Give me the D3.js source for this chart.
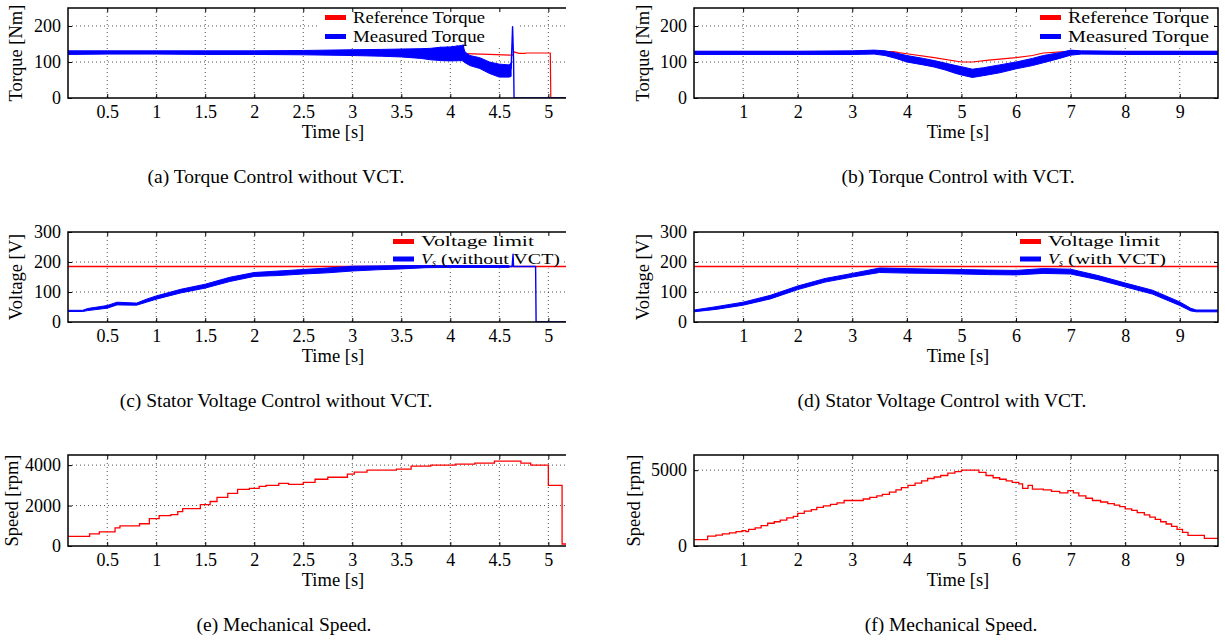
<!DOCTYPE html>
<html><head><meta charset="utf-8">
<script src="https://cdn.jsdelivr.net/npm/d3@7"></script>
<style>
body{margin:0;background:#fff}
text{font-family:"Liberation Serif","Times New Roman",serif;fill:#000}
</style>
</head><body>
<svg id="chart" width="1225" height="641"></svg>
<script>
// ---------- tick values ----------
const timeTicksLeft = [0.5,1,1.5,2,2.5,3,3.5,4,4.5,5];
const timeTicksRight = [1,2,3,4,5,6,7,8,9];
const torqueTicks = [0,100,200];
const voltageTicks = [0,100,200,300];
const speedTicksLeft = [0,2000,4000];
const speedTicksRight = [0,5000];

// ---------- (a) torque without VCT ----------
const refTorqueA = [[0.1,128],[4.1,128],[4.15,123],[4.4,121],[4.62,119],[4.64,119],[4.65,128],[4.7,124],[4.76,124],[4.78,125],[5.02,125],[5.025,0],[5.2,0]];
const measTorqueA = [ // t, low, high envelope of the noisy trace
 [0.1,121,131],[0.5,122,131],[1.0,122,131],[1.5,121,131],[2.0,121,131],[2.5,120,132],
 [3.0,118,134],[3.3,116,135],[3.5,114,136],[3.7,110,137],[3.8,106,138],[3.9,104,141],
 [4.0,103,142],[4.12,104,146],[4.15,98,128],[4.2,90,118],[4.3,82,112],[4.4,68,100],
 [4.5,58,94],[4.6,58,92],[4.62,60,98]];
const measTorqueAOsc = [[3.72,120],[3.76,134],[3.8,110],[3.85,136],[3.88,108],[3.9,140],[3.93,106],[3.97,141],[4.0,108],[4.02,143],[4.05,105],[4.07,144],[4.1,107],[4.13,147],[4.15,115]];
const measTorqueATail = [[4.62,80],[4.635,198],[4.645,110],[4.65,0],[5.2,0]];

// ---------- (b) torque with VCT ----------
const refTorqueB = [[0.1,129],[3.75,129],[3.85,126],[4.0,123],[4.5,112],[5.0,100],[5.2,100],[5.5,105],[6.0,112],[6.3,118],[6.5,125],[6.9,129],[9.7,129]];
const measTorqueB = [
 [0.1,121,130],[1,121,130],[2,121,130],[3,121,131],[3.4,122,133],[3.6,118,131],
 [3.8,110,125],[4.0,100,118],[4.3,92,110],[4.5,86,104],[4.7,78,97],[4.9,68,90],
 [5.0,64,87],[5.2,57,80],[5.4,62,84],[5.7,70,92],[6.0,81,100],[6.3,90,110],
 [6.5,98,118],[6.8,110,126],[7.0,119,133],[7.2,122,131],[8,121,130],[9,121,130],[9.7,121,130]];

// ---------- (c) stator voltage without VCT ----------
const voltageLimit = 185;
const vsA = [
 [0.1,35,39],[0.25,35,39],[0.3,38,45],[0.5,46,55],[0.6,57,66],[0.8,56,63],[0.9,66,76],
 [1.0,76,87],[1.25,97,109],[1.5,113,126],[1.75,135,149],[2.0,152,165],[2.25,155,170],
 [2.5,160,175],[2.75,164,180],[3.0,170,186],[3.25,174,187],[3.5,177,188],[3.75,181,188],
 [4.0,182,188],[4.6,182,188]];
const vsATail = [[4.6,185],[4.63,185],[4.64,226],[4.645,185],[4.87,185],[4.875,0],[5.2,0]];

// ---------- (d) stator voltage with VCT ----------
const vsB = [
 [0.1,34,40],[0.5,42,51],[1.0,56,66],[1.5,77,89],[2.0,108,120],[2.5,133,145],[3.0,150,162],
 [3.5,165,180],[4.0,163,178],[4.5,162,176],[5.0,160,175],[5.5,158,173],[6.0,157,172],
 [6.5,162,178],[7.0,160,176],[7.5,141,155],[8.0,117,130],[8.5,93,106],[9.0,55,67],
 [9.2,37,46],[9.3,34,40],[9.7,34,40]];

// ---------- (e) speed without VCT (step changes) ----------
const speedA = [[0.1,480],[0.32,600],[0.42,700],[0.58,900],[0.63,1000],[0.83,1100],[0.93,1350],[1.03,1500],
 [1.15,1550],[1.22,1700],[1.27,1850],[1.45,2050],[1.55,2200],[1.62,2400],[1.73,2600],[1.83,2800],
 [1.95,2850],[2.05,2950],[2.12,3000],[2.25,3100],[2.35,3050],[2.5,3150],[2.62,3300],[2.75,3400],
 [2.95,3550],[3.02,3650],[3.15,3750],[3.45,3800],[3.6,3950],[3.8,4000],[4.05,4050],[4.25,4100],
 [4.45,4200],[4.72,4100],[4.82,4000],[5.0,3000],[5.14,100],[5.2,100]];

// ---------- (f) speed with VCT (step changes) ----------
const speedB = [[0.1,420],[0.35,650],[0.5,720],[0.62,800],[0.75,870],[0.87,950],[0.98,1020],[1.05,950],
 [1.1,1100],[1.22,1200],[1.33,1350],[1.45,1500],[1.57,1600],[1.68,1700],[1.8,1850],[1.92,1950],
 [2.0,2150],[2.12,2300],[2.25,2400],[2.35,2550],[2.47,2650],[2.6,2750],[2.72,2850],[2.85,3000],
 [3.2,3100],[3.32,3200],[3.45,3300],[3.55,3400],[3.68,3550],[3.8,3700],[3.9,3850],[4.02,4000],
 [4.15,4150],[4.27,4300],[4.38,4450],[4.5,4550],[4.62,4650],[4.75,4800],[4.88,4900],[5.0,5000],
 [5.32,4850],[5.45,4650],[5.58,4500],[5.7,4400],[5.82,4300],[5.93,4200],[6.05,4100],[6.12,3800],
 [6.22,4000],[6.3,3750],[6.5,3700],[6.65,3600],[6.8,3500],[6.95,3650],[7.05,3500],[7.15,3300],
 [7.28,3150],[7.4,3000],[7.55,2900],[7.68,2800],[7.8,2700],[7.9,2600],[8.0,2450],[8.12,2350],
 [8.22,2200],[8.35,2050],[8.45,1900],[8.55,1750],[8.65,1600],[8.75,1450],[8.85,1300],[8.95,1100],
 [9.05,900],[9.15,700],[9.45,500],[9.7,500]];

// ---------- drawing ----------
const svg = d3.select("#chart");
const RED = "#ff0000", BLUE = "#0000ff";
const TICK_FS = 18, LABEL_FS = 18.5, CAP_FS = 19.5;
let clipId = 0;

function fmt(v){ return String(v); }

function panel(cfg){
  const g = svg.append("g");
  const x = d3.scaleLinear().domain(cfg.xDomain).range([cfg.left, cfg.right]);
  const y = d3.scaleLinear().domain(cfg.yDomain).range([cfg.bottom, cfg.top]);
  const id = "clip" + (clipId++);
  g.append("clipPath").attr("id", id).append("rect")
    .attr("x", cfg.left).attr("y", cfg.top).attr("width", cfg.right - cfg.left).attr("height", cfg.bottom - cfg.top);

  // grid
  const grid = g.append("g").attr("stroke", "#222").attr("stroke-width", 0.8).attr("stroke-dasharray", "1,3");
  cfg.xTicks.forEach(t => grid.append("line").attr("x1", x(t)).attr("x2", x(t)).attr("y1", cfg.top).attr("y2", cfg.bottom));
  cfg.yTicks.filter(v => v > cfg.yDomain[0] && v < cfg.yDomain[1]).forEach(v =>
    grid.append("line").attr("x1", cfg.left).attr("x2", cfg.right).attr("y1", y(v)).attr("y2", y(v)));

  // legend background
  const lg = cfg.legend;
  if (lg) {
    g.append("rect").attr("x", lg.x - 6).attr("y", lg.y - 10)
      .attr("width", lg.w).attr("height", lg.rowH * lg.items.length + 2)
      .attr("fill", "#fff");
  }

  const data = g.append("g").attr("clip-path", `url(#${id})`);
  const line = d3.line().x(d => x(d[0])).y(d => y(d[1]));
  const stepLine = d3.line().x(d => x(d[0])).y(d => y(d[1])).curve(d3.curveStepAfter);
  const area = d3.area().x(d => x(d[0])).y0(d => y(d[1])).y1(d => y(d[2]));
  (cfg.series || []).forEach(s => {
    if (s.type === "band") {
      data.append("path").datum(s.data).attr("d", area).attr("fill", s.color)
        .attr("stroke", s.color).attr("stroke-width", 1);
    } else if (s.type === "step") {
      data.append("path").datum(s.data).attr("d", stepLine).attr("fill", "none")
        .attr("stroke", s.color).attr("stroke-width", s.width || 1.3);
    } else if (s.type === "hline") {
      data.append("line").attr("x1", cfg.left).attr("x2", cfg.right).attr("y1", y(s.value)).attr("y2", y(s.value))
        .attr("stroke", s.color).attr("stroke-width", s.width || 1.5);
    } else {
      data.append("path").datum(s.data).attr("d", line).attr("fill", "none")
        .attr("stroke", s.color).attr("stroke-width", s.width || 1.2).attr("stroke-linejoin", "round");
    }
  });

  // axes
  const xa = g.append("g").attr("transform", `translate(0,${cfg.bottom})`)
    .call(d3.axisBottom(x).tickValues(cfg.xTicks).tickFormat(fmt).tickSizeInner(-4).tickSizeOuter(0).tickPadding(7));
  const xt = g.append("g").attr("transform", `translate(0,${cfg.top})`)
    .call(d3.axisTop(x).tickValues(cfg.xTicks).tickFormat("").tickSizeInner(-4).tickSizeOuter(0));
  const ya = g.append("g").attr("transform", `translate(${cfg.left},0)`)
    .call(d3.axisLeft(y).tickValues(cfg.yTicks).tickFormat(fmt).tickSizeInner(-4).tickSizeOuter(0).tickPadding(7));
  const axes = [xa, xt, ya];
  if (cfg.rightBorder) {
    axes.push(g.append("g").attr("transform", `translate(${cfg.right},0)`)
      .call(d3.axisRight(y).tickValues(cfg.yTicks).tickFormat("").tickSizeInner(-4).tickSizeOuter(0)));
  }
  axes.forEach(a => {
    a.select(".domain").remove();
    a.selectAll("line").attr("stroke", "#000").attr("stroke-width", 1);
    a.selectAll("text").attr("font-family", "'Liberation Serif',serif").attr("font-size", TICK_FS).attr("fill", "#000");
  });

  // border
  const L = cfg.left, R = cfg.right, T = cfg.top, B = cfg.bottom;
  const bp = cfg.rightBorder ? `M${L},${T}H${R}V${B}H${L}Z` : `M${R},${T}H${L}V${B}H${R}`;
  g.append("path").attr("d", bp).attr("fill", "none").attr("stroke", "#000").attr("stroke-width", 1.5);

  // legend entries
  if (lg) {
    lg.items.forEach((it, i) => {
      const yy = lg.y + i * lg.rowH;
      const tx = lg.x + 28;
      g.append("line").attr("x1", lg.x).attr("x2", lg.x + 21).attr("y1", yy).attr("y2", yy)
        .attr("stroke", it.color).attr("stroke-width", 5);
      const base = yy + lg.fs * 0.33;
      if (it.vs) {
        // italic V with subscript s, then the rest of the label
        g.append("text").attr("x", tx).attr("y", base).attr("font-size", lg.fs).attr("font-style", "italic")
          .attr("textLength", 11).attr("lengthAdjust", "spacingAndGlyphs").text("V");
        g.append("text").attr("x", tx + 11).attr("y", base + 2).attr("font-size", 10).attr("font-style", "italic").text("s");
        const t = g.append("text").attr("x", tx + 20).attr("y", base).attr("font-size", lg.fs).text(it.label);
        if (it.len) t.attr("textLength", it.len).attr("lengthAdjust", "spacingAndGlyphs");
      } else {
        const t = g.append("text").attr("x", tx).attr("y", base).attr("font-size", lg.fs).text(it.label);
        if (it.len) t.attr("textLength", it.len).attr("lengthAdjust", "spacingAndGlyphs");
      }
    });
  }

  // labels
  g.append("text").attr("x", cfg.xLabelX).attr("y", B + 40).attr("text-anchor", "middle").attr("font-size", LABEL_FS).text("Time [s]");
  g.append("text").attr("transform", `translate(${cfg.yLabelX},${(T + B) / 2}) rotate(-90)`)
    .attr("text-anchor", "middle").attr("font-size", LABEL_FS).text(cfg.yLabel);
  g.append("text").attr("x", cfg.capX).attr("y", B + 85).attr("text-anchor", "middle").attr("font-size", CAP_FS).text(cfg.caption);
}

const LEFT = {left: 68, right: 566, xDomain: [0.1, 5.18], xTicks: timeTicksLeft, rightBorder: false, xLabelX: 333};
const RIGHT = {left: 694, right: 1218, xDomain: [0.1, 9.7], xTicks: timeTicksRight, rightBorder: true, xLabelX: 958};

panel(Object.assign({}, LEFT, {
  top: 8, bottom: 98, yDomain: [0, 250], yTicks: torqueTicks, yLabel: "Torque [Nm]", yLabelX: 22,
  caption: "(a) Torque Control without VCT.", capX: 276,
  legend: {x: 325, y: 17.5, rowH: 19, w: 200, fs: 17, items: [{color: RED, label: "Reference Torque", len: 132}, {color: BLUE, label: "Measured Torque", len: 132}]},
  series: [
    {type: "line", data: refTorqueA, color: RED},
    {type: "band", data: measTorqueA, color: BLUE},
    {type: "line", data: measTorqueAOsc, color: BLUE, width: 1.6},
    {type: "line", data: measTorqueATail, color: BLUE, width: 1.4}
  ]}));

panel(Object.assign({}, RIGHT, {
  top: 8, bottom: 98, yDomain: [0, 250], yTicks: torqueTicks, yLabel: "Torque [Nm]", yLabelX: 649,
  caption: "(b) Torque Control with VCT.", capX: 958,
  legend: {x: 1040, y: 17.5, rowH: 19, w: 180, fs: 17, items: [{color: RED, label: "Reference Torque", len: 141}, {color: BLUE, label: "Measured Torque", len: 141}]},
  series: [
    {type: "line", data: refTorqueB, color: RED},
    {type: "band", data: measTorqueB, color: BLUE}
  ]}));

panel(Object.assign({}, LEFT, {
  top: 232, bottom: 322, yDomain: [0, 300], yTicks: voltageTicks, yLabel: "Voltage [V]", yLabelX: 22,
  caption: "(c) Stator Voltage Control without VCT.", capX: 276,
  legend: {x: 393, y: 241.5, rowH: 17.5, w: 175, fs: 15, items: [{color: RED, label: "Voltage limit", len: 113}, {color: BLUE, label: "(without VCT)", vs: true, len: 119}]},
  series: [
    {type: "hline", value: voltageLimit, color: RED},
    {type: "band", data: vsA, color: BLUE},
    {type: "line", data: vsATail, color: BLUE, width: 1.4}
  ]}));

panel(Object.assign({}, RIGHT, {
  top: 232, bottom: 322, yDomain: [0, 300], yTicks: voltageTicks, yLabel: "Voltage [V]", yLabelX: 649,
  caption: "(d) Stator Voltage Control with VCT.", capX: 942,
  legend: {x: 1020, y: 241.5, rowH: 17.5, w: 160, fs: 15, items: [{color: RED, label: "Voltage limit", len: 112}, {color: BLUE, label: "(with VCT)", vs: true, len: 98}]},
  series: [
    {type: "hline", value: voltageLimit, color: RED},
    {type: "band", data: vsB, color: BLUE}
  ]}));

panel(Object.assign({}, LEFT, {
  top: 455, bottom: 546, yDomain: [0, 4500], yTicks: speedTicksLeft, yLabel: "Speed [rpm]", yLabelX: 18,
  caption: "(e) Mechanical Speed.", capX: 284,
  series: [{type: "step", data: speedA, color: RED}]}));

panel(Object.assign({}, RIGHT, {
  top: 455, bottom: 546, yDomain: [0, 6000], yTicks: speedTicksRight, yLabel: "Speed [rpm]", yLabelX: 640,
  caption: "(f) Mechanical Speed.", capX: 951,
  series: [{type: "step", data: speedB, color: RED}]}));
</script>
</body></html>
